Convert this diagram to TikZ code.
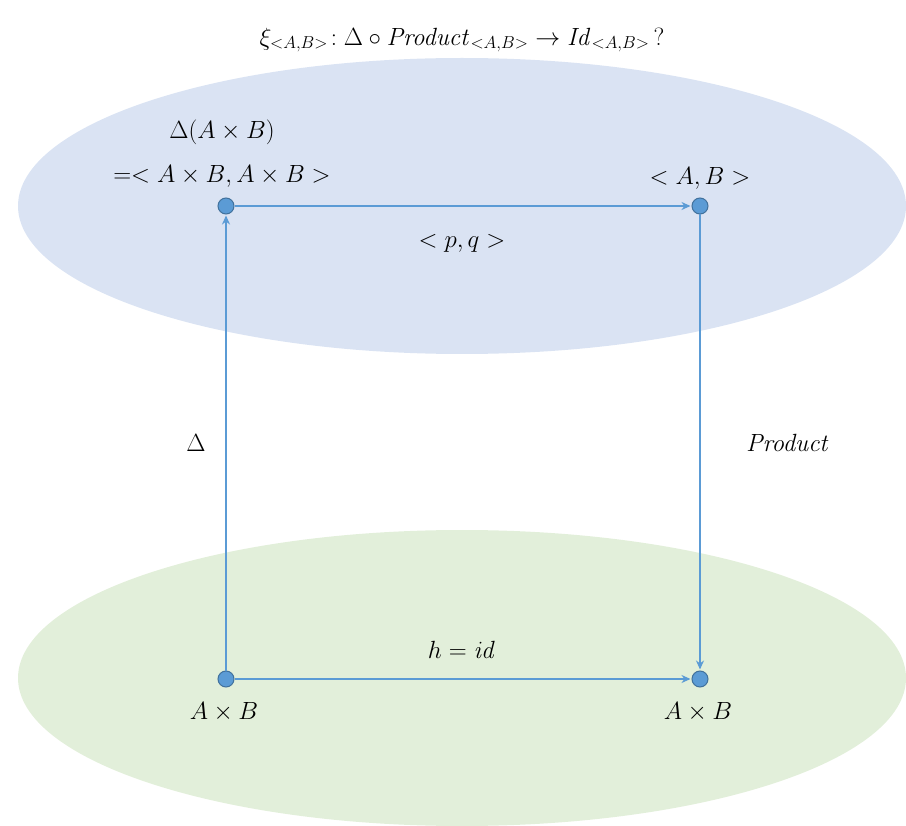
\documentclass[tikz,border=0pt]{standalone}
\usetikzlibrary{arrows.meta}
\usepackage{amsmath}
\begin{document}
\begin{tikzpicture}[x=1pt,y=-1pt,
  dot/.style={circle,fill=dotc,draw=dotd,line width=1pt,inner sep=0pt,minimum size=16pt},
  arr/.style={draw=linec,line width=2pt,-{Stealth[length=9pt,width=8pt]},shorten >=1pt},
  lab/.style={font=\fontsize{26}{30}\selectfont,inner sep=0pt}]
\definecolor{topc}{HTML}{DAE3F3}
\definecolor{botc}{HTML}{E2EFDA}
\definecolor{dotc}{HTML}{5B9BD5}
\definecolor{dotd}{HTML}{41719C}
\definecolor{linec}{HTML}{5B9BD5}
\useasboundingbox (0,0) rectangle (906,826);
\fill[topc] (462,206) ellipse [x radius=444, y radius=148];
\fill[botc] (462,678) ellipse [x radius=444, y radius=148];
\node[dot] (tl) at (226,206) {};
\node[dot] (tr) at (700,206) {};
\node[dot] (bl) at (226,679) {};
\node[dot] (br) at (700,679) {};
\draw[arr] (bl) -- (tl);
\draw[arr] (tl) -- (tr);
\draw[arr] (tr) -- (br);
\draw[arr] (bl) -- (br);
\node[lab] (title) at (462,40) {$\xi_{<A,B>}\!:\Delta\circ \mathit{Product}_{<A,B>}\to \mathit{Id}_{<A,B>}\,?$};
\node[lab] (d1) at (222,132) {$\Delta(A\times B)$};
\node[lab] (d2) at (222,176) {$=<A\times B, A\times B>$};
\node[lab] (ab) at (700,178) {$<A,B>$};
\node[lab] (pq) at (462,243) {$<p,q>$};
\node[lab] (dl) at (196,443) {$\Delta$};
\node[lab] (pr) at (788,443) {$\mathit{Product}$};
\node[lab] (h) at (462,650) {$h=\mathit{id}$};
\node[lab] (l1) at (224,712) {$A\times B$};
\node[lab] (l2) at (698,712) {$A\times B$};
\end{tikzpicture}
\end{document}
